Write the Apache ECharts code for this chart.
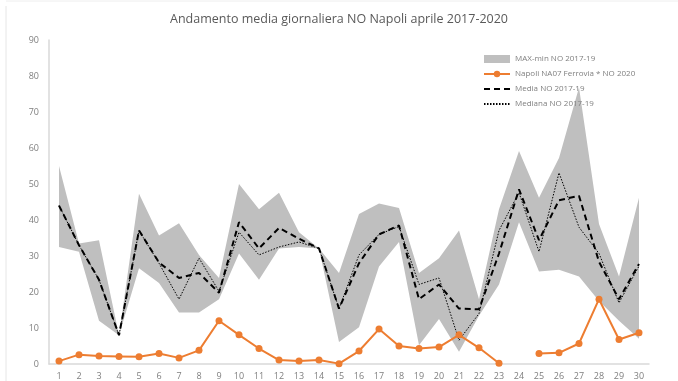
<!DOCTYPE html>
<html>
<head>
<meta charset="utf-8">
<script src="https://cdn.jsdelivr.net/npm/echarts@6/dist/echarts.min.js"></script>
<style>
html,body{margin:0;padding:0;background:#fff;}
#chart{width:678px;height:381px;}
</style>
</head>
<body>
<div id="chart"></div>
<script>
const days = ['1','2','3','4','5','6','7','8','9','10','11','12','13','14','15','16','17','18','19','20','21','22','23','24','25','26','27','28','29','30'];
const maxNO = [55, 33.5, 34.4, 8, 47.3, 35.7, 39.1, 30.3, 23.9, 50, 43, 47.6, 36.6, 32.1, 25.3, 41.7, 44.6, 43.3, 25.3, 29.4, 37.1, 18, 43, 59.2, 46.2, 57.2, 76.8, 38.9, 24.3, 46.2];
const minNO = [32.5, 31.2, 12, 8, 26.6, 22.5, 14.3, 14.3, 18, 30.7, 23.4, 32.1, 32.5, 32.1, 6.1, 10.2, 27.1, 33.9, 5.2, 12.5, 3.4, 13.4, 22.1, 39.4, 25.7, 26.2, 24.3, 17.5, 12, 7];
const mediaNO = [44, 33, 23.4, 8, 37.1, 28.2, 23.9, 25.3, 19.8, 39.4, 32.1, 37.8, 34.8, 32.1, 15.4, 28, 36, 38.5, 18, 22.1, 15.4, 15.2, 30.7, 48.5, 34.4, 45.5, 46.7, 28.4, 18, 27.8];
const medianaNO = [44, 33, 23.4, 8, 37.1, 28, 18, 29.4, 20.2, 36.6, 30.3, 32.5, 33.9, 32.1, 15.4, 30.3, 36, 38.2, 22.1, 23.9, 6.6, 14, 37.1, 47.6, 31.2, 53.1, 38, 30.7, 17, 27.2];
const napoli2020 = [0.8, 2.6, 2.2, 2.1, 2.0, 2.9, 1.7, 3.8, 12, 8.1, 4.3, 1.1, 0.8, 1.1, 0.1, 3.6, 9.7, 5, 4.3, 4.7, 8.1, 4.5, 0.2, null, 2.9, 3.1, 5.7, 18, 6.8, 8.7];
const yTicks = [0, 10, 20, 30, 40, 50, 60, 70, 80, 90];

const bandDiff = maxNO.map((v, i) => +(v - minNO[i]).toFixed(2));
const chart = echarts.init(document.getElementById('chart'));
const txt = '#7f7f7f';
const hidden = {color: 'rgba(0,0,0,0)', borderWidth: 0, opacity: 0};
chart.setOption({
  animation: false,
  title: {
    text: 'Andamento media giornaliera NO Napoli aprile 2017-2020',
    left: 'center', top: 8,
    textStyle: {fontFamily: 'Open Sans', fontSize: 12.5, fontWeight: 'normal', color: '#595959'}
  },
  graphic: [
    {type: 'line', shape: {x1: 6, y1: 6, x2: 6, y2: 381}, style: {stroke: '#e6e6e6', lineWidth: 1}},
    {type: 'line', shape: {x1: 6, y1: 1, x2: 678, y2: 1}, style: {stroke: '#eeeeee', lineWidth: 1}}
  ],
  legend: {
    orient: 'vertical', left: 478, top: 50, itemGap: 7,
    itemWidth: 26, itemHeight: 8,
    textStyle: {fontFamily: 'Open Sans', fontSize: 8, color: txt},
    data: [
      {name: 'MAX-min NO 2017-19', icon: 'rect'},
      {name: 'Napoli NA07 Ferrovia * NO 2020'},
      {name: 'Media NO 2017-19', itemStyle: hidden},
      {name: 'Mediana NO 2017-19', itemStyle: hidden}
    ]
  },
  grid: {left: 49, right: 29, top: 40, bottom: 12},
  xAxis: {
    type: 'category', data: days, boundaryGap: true,
    axisLine: {lineStyle: {color: '#d9d9d9', width: 1.5}},
    axisTick: {show: false},
    axisLabel: {color: txt, fontSize: 9, fontFamily: 'Open Sans', margin: 8}
  },
  yAxis: {
    type: 'value', min: 0, max: 90, interval: 10,
    axisLine: {show: true, lineStyle: {color: '#d9d9d9', width: 1.5}},
    axisTick: {show: false},
    splitLine: {show: false},
    axisLabel: {color: txt, fontSize: 9, fontFamily: 'Open Sans', margin: 10,
      formatter: v => yTicks.includes(v) ? String(v) : ''}
  },
  series: [
    {name: 'min', type: 'line', stack: 'band', data: minNO, symbol: 'none',
     lineStyle: {opacity: 0}, silent: true},
    {name: 'MAX-min NO 2017-19', type: 'line', stack: 'band', data: bandDiff, symbol: 'none',
     lineStyle: {opacity: 0}, itemStyle: {color: '#bfbfbf'},
     areaStyle: {color: '#bfbfbf', opacity: 1}},
    {name: 'Media NO 2017-19', type: 'line', data: mediaNO, symbol: 'none',
     itemStyle: {color: '#000'},
     lineStyle: {color: '#000', width: 2, type: [6, 4]}},
    {name: 'Mediana NO 2017-19', type: 'line', data: medianaNO, symbol: 'none',
     itemStyle: {color: '#000'},
     lineStyle: {color: '#000', width: 1, type: [1.5, 1.5]}},
    {name: 'Napoli NA07 Ferrovia * NO 2020', type: 'line', data: napoli2020,
     symbol: 'circle', symbolSize: 7, connectNulls: false,
     itemStyle: {color: '#ed7d31'},
     lineStyle: {color: '#ed7d31', width: 2}}
  ]
});
</script>
</body>
</html>
